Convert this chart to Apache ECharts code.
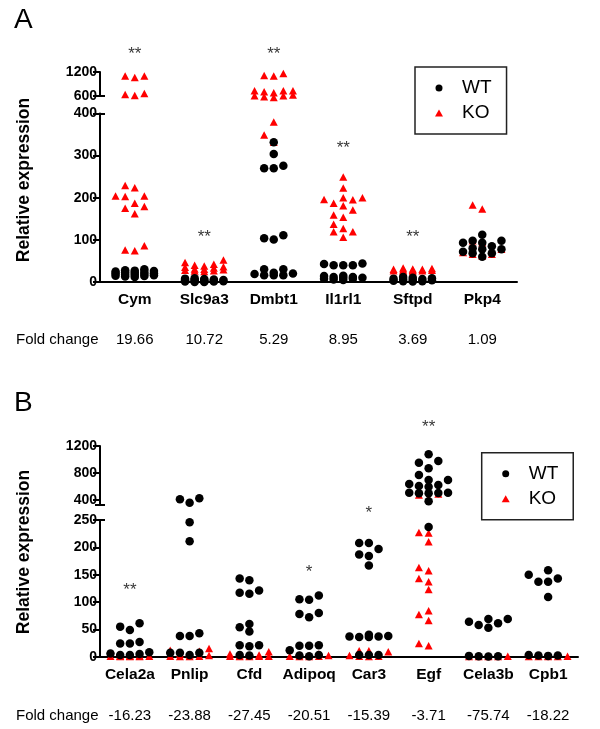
<!DOCTYPE html>
<html><head><meta charset="utf-8">
<script src="https://cdn.jsdelivr.net/npm/echarts@6/dist/echarts.min.js"></script>
<style>html,body{margin:0;padding:0;background:#fff}#c{width:600px;height:729px}</style>
</head><body><div id="c"></div>
<script>
// ---------- Panel A data ----------
const catsA = ['Cym','Slc9a3','Dmbt1','Il1rl1','Sftpd','Pkp4'];
const foldA = ['19.66','10.72','5.29','8.95','3.69','1.09'];
const sigA = ['**','**','**','**','**',''];
const sigValA = [1637,106,1637,317,106,null];
const ticksAUpper = [600,1200];
const ticksALower = [0,100,200,300,400];
const wtA_Cym = [28,26,24,22,30,25,20,18,15,14,13,16,27,21,19,23,17,12];
const wtA_Slc9a3 = [9,8,7,6,5,5,4,4,3,3,2,2,1,1,0,0];
const wtA_Dmbt1 = [332,304,276,270,270,104,101,111,22,16,30,16,16,30,20,19];
const wtA_Il1rl1 = [44,40,40,40,43,15,12,12,10,8,8,6,5,14,10];
const wtA_Sftpd = [12,10,9,8,7,6,5,4,3,2,2,1];
const wtA_Pkp4 = [112,98,98,93,93,85,80,78,78,72,68,68,60];
const koA_Cym = [1100,1060,1100,640,610,660,229,224,204,203,204,187,179,175,162,86,76,74];
const koA_Slc9a3 = [52,46,42,40,38,36,35,33,31,30,29,28,27,26,25];
const koA_Dmbt1 = [1110,1100,1160,733,625,608,733,733,560,608,708,583,680,380,349,332];
const koA_Il1rl1 = [249,223,200,196,187,195,200,181,171,159,154,137,127,119,119,106];
const koA_Sftpd = [33,32,31,30,30,29,28,28,27,27,26,25];
const koA_Pkp4 = [183,173,98,93,78,66,66,62,70];

// ---------- Panel B data ----------
const catsB = ['Cela2a','Pnlip','Cfd','Adipoq','Car3','Egf','Cela3b','Cpb1'];
const foldB = ['-16.23','-23.88','-27.45','-20.51','-15.39','-3.71','-75.74','-18.22'];
const sigB = ['**','','','*','*','**','',''];
const sigValB = [121,null,null,155,262,1470,null,null];
const ticksBUpper = [400,800,1200];
const ticksBLower = [0,50,100,150,200,250];
const wtB_Cela2a = [61,49,55,24,24,27,6,3,3,8,5];
const wtB_Pnlip = [424,359,410,246,211,38,38,43,7,7,7,3];
const wtB_Cfd = [143,140,121,117,115,60,54,46,21,21,19,3,2];
const wtB_Adipoq = [112,105,104,80,78,72,21,20,20,12,3,1,2];
const wtB_Car3 = [208,208,197,187,184,167,40,37,37,36,38,36,3,3,3];
const wtB_Egf = [1077,977,952,869,770,696,696,636,622,607,596,507,507,503,498,498,380,237];
const wtB_Cela3b = [69,69,64,61,58,53,1,1,1.5,0.5];
const wtB_Cpb1 = [158,150,143,137,137,109,2,2,3,1.5];
const koB_Cela2a = [2,1,1,0.5,0.5,1,2,0.5,1,1.5];
const koB_Pnlip = [15,12,10,5,3,2,1,1,0.5,0.5];
const koB_Cfd = [9,5,3,2,1,1,0.5,0.5,1,2];
const koB_Adipoq = [5,3,2,1,1,0.5,0.5,2];
const koB_Car3 = [11,11,9,2,1,1,0.5];
const koB_Egf = [488,473,424,227,226,210,163,157,143,137,123,84,77,66,24,20];
const koB_Cela3b = [0.5,0.5,1,0.3,0.8,0.5];
const koB_Cpb1 = [0.5,1,0.5,0.3,1,0.5];

const wtA = [wtA_Cym,wtA_Slc9a3,wtA_Dmbt1,wtA_Il1rl1,wtA_Sftpd,wtA_Pkp4];
const koA = [koA_Cym,koA_Slc9a3,koA_Dmbt1,koA_Il1rl1,koA_Sftpd,koA_Pkp4];
const wtB = [wtB_Cela2a,wtB_Pnlip,wtB_Cfd,wtB_Adipoq,wtB_Car3,wtB_Egf,wtB_Cela3b,wtB_Cpb1];
const koB = [koB_Cela2a,koB_Pnlip,koB_Cfd,koB_Adipoq,koB_Car3,koB_Egf,koB_Cela3b,koB_Cpb1];

// ---------- layout ----------
const FONT = '"Liberation Sans", Arial, sans-serif';
const PA = {n:catsA.length, left:100, width:417, upTop:72, upH:24, upMin:600, upMax:1200,
  loTop:113.5, loH:168.5, loMin:0, loMax:400, split:450, slotPx:9.6, gap:7.5, foldOffset:44, capOut:false,
  legend:{left:415, top:67}};
const PB = {n:catsB.length, left:100, width:478, upTop:446, upH:59, upMin:325, upMax:1200,
  loTop:520, loH:136.7, loMin:0, loMax:250, split:300, slotPx:9.7, gap:7.5, foldOffset:46, capOut:true,
  legend:{left:481.7, top:452.7}};

const option = {animation:false, backgroundColor:'#fff', grid:[], xAxis:[], yAxis:[], series:[], legend:[], graphic:[]};

function pixY(P, v){
  if (v > P.split) return P.upTop + P.upH*(P.upMax - v)/(P.upMax - P.upMin);
  return P.loTop + P.loH*(P.loMax - v)/(P.loMax - P.loMin);
}
function layoutSlots(P, vals){
  const order = vals.map((v,i)=>i).sort((a,b)=>vals[a]-vals[b]);
  const cands = [0,-1,1,-2,2];
  const placed = []; const slots = new Array(vals.length);
  for (const i of order){
    const y = pixY(P, vals[i]);
    let best = 0, bestD = -1;
    for (const s of cands){
      let d = Infinity;
      for (const p of placed) if (p.s === s) d = Math.min(d, Math.abs(p.y - y));
      if (d >= P.gap){ best = s; bestD = d; break; }
      if (d > bestD){ bestD = d; best = s; }
    }
    placed.push({s:best, y}); slots[i] = best;
  }
  return slots;
}
function mainY(g, min, max, ticks){
  return {type:'value', gridIndex:g, position:'left', min, max,
    axisLine:{show:true, onZero:false, lineStyle:{color:'#000', width:2}},
    axisTick:{show:true, length:7, customValues:ticks, lineStyle:{color:'#000', width:2}},
    axisLabel:{show:true, customValues:ticks, formatter:(v)=>String(v), color:'#000', fontFamily:FONT, fontWeight:'bold', fontSize:14, margin:3},
    splitLine:{show:false}};
}
function capY(g, min, max, v, inside){
  return {type:'value', gridIndex:g, position:'left', min, max,
    axisLine:{show:false, onZero:false}, axisLabel:{show:false}, splitLine:{show:false},
    axisTick:{show:true, inside, length:5, customValues:[v], lineStyle:{color:'#000', width:2}}};
}

function addPanel(P, cats, fold, wt, ko, sig, sigVal, upTicks, loTicks){
  const gU = option.grid.length;
  option.grid.push({left:P.left, width:P.width, top:P.upTop, height:P.upH, outerBoundsMode:'none'});
  option.grid.push({left:P.left, width:P.width, top:P.loTop, height:P.loH, outerBoundsMode:'none'});
  const gL = gU + 1;
  const xU = option.xAxis.length;
  option.xAxis.push({type:'value', gridIndex:gU, position:'bottom', min:-0.5, max:P.n-0.5, show:false});
  const xL = option.xAxis.length;
  option.xAxis.push({type:'value', gridIndex:gL, position:'bottom', min:-0.5, max:P.n-0.5, show:false});
  option.xAxis.push({type:'category', gridIndex:gL, position:'bottom', data:cats, boundaryGap:true,
    axisLine:{show:true, onZero:false, lineStyle:{color:'#000', width:2}}, axisTick:{show:false},
    axisLabel:{color:'#000', fontFamily:FONT, fontWeight:'bold', fontSize:15.5, margin:10, interval:0},
    splitLine:{show:false}});
  option.xAxis.push({type:'category', gridIndex:gL, position:'bottom', offset:P.foldOffset, data:fold,
    axisLine:{show:false, onZero:false}, axisTick:{show:false},
    axisLabel:{color:'#000', fontFamily:FONT, fontSize:15, margin:6, interval:0}, splitLine:{show:false}});
  const yU = option.yAxis.length;
  option.yAxis.push(mainY(gU, P.upMin, P.upMax, upTicks));
  option.yAxis.push(capY(gU, P.upMin, P.upMax, P.upMin, true));
  if (P.capOut) option.yAxis.push(capY(gU, P.upMin, P.upMax, P.upMin, false));
  const yL = option.yAxis.length;
  option.yAxis.push(mainY(gL, P.loMin, P.loMax, loTicks));
  option.yAxis.push(capY(gL, P.loMin, P.loMax, P.loMax, true));

  const catPx = P.width / P.n;
  function build(groups){
    const up = [], lo = [];
    groups.forEach((vals, ci) => {
      const slots = layoutSlots(P, vals);
      vals.forEach((v, i) => {
        const pt = [ci + slots[i]*P.slotPx/catPx, v];
        (v > P.split ? up : lo).push(pt);
      });
    });
    return {up, lo};
  }
  const K = build(ko), W = build(wt);
  const koStyle = {type:'scatter', name:'KO', symbol:'triangle', symbolSize:[8,7.5], itemStyle:{color:'#ff0000', opacity:1}, clip:false, silent:true, z:2};
  const wtStyle = {type:'scatter', name:'WT', symbol:'circle', symbolSize:8.5, itemStyle:{color:'#000', opacity:1}, clip:false, silent:true, z:3};
  option.series.push(Object.assign({}, koStyle, {xAxisIndex:xU, yAxisIndex:yU, data:K.up}));
  option.series.push(Object.assign({}, koStyle, {xAxisIndex:xL, yAxisIndex:yL, data:K.lo}));
  option.series.push(Object.assign({}, wtStyle, {xAxisIndex:xU, yAxisIndex:yU, data:W.up}));
  option.series.push(Object.assign({}, wtStyle, {xAxisIndex:xL, yAxisIndex:yL, data:W.lo}));

  const sUp = [], sLo = [];
  sig.forEach((s, i) => {
    if (!s) return;
    const item = {value:[i, sigVal[i]], label:{formatter:s}};
    (sigVal[i] > P.split ? sUp : sLo).push(item);
  });
  const sigStyle = {type:'scatter', name:'sig', symbolSize:1, itemStyle:{color:'rgba(0,0,0,0)'}, clip:false, silent:true, z:4,
    label:{show:true, position:'inside', color:'#000', fontFamily:FONT, fontSize:17}};
  option.series.push(Object.assign({}, sigStyle, {xAxisIndex:xU, yAxisIndex:yU, data:sUp}));
  option.series.push(Object.assign({}, sigStyle, {xAxisIndex:xL, yAxisIndex:yL, data:sLo}));

  option.legend.push({data:[{name:'WT', icon:'circle'}, {name:'KO', icon:'triangle'}],
    orient:'vertical', left:P.legend.left, top:P.legend.top, itemWidth:8, itemHeight:7, itemGap:6,
    padding:[11.5,15,11.5,20], borderColor:'#222', borderWidth:1.5, selectedMode:false,
    textStyle:{fontSize:19, color:'#000', fontFamily:FONT, padding:[0,0,0,14]}});
}

addPanel(PA, catsA, foldA, wtA, koA, sigA, sigValA, ticksAUpper, ticksALower);
addPanel(PB, catsB, foldB, wtB, koB, sigB, sigValB, ticksBUpper, ticksBLower);

function txt(extra, style){
  return Object.assign({type:'text', silent:true}, extra, {style:Object.assign({fill:'#000', fontFamily:FONT}, style)});
}
option.graphic = [
  txt({left:14, top:6}, {text:'A', fontSize:28}),
  txt({left:14, top:389}, {text:'B', fontSize:28}),
  txt({x:24, y:180, rotation:Math.PI/2}, {text:'Relative expression', fontSize:17.5, fontWeight:'bold', align:'center', verticalAlign:'middle', textAlign:'center', textVerticalAlign:'middle'}),
  txt({x:24, y:552, rotation:Math.PI/2}, {text:'Relative expression', fontSize:17.5, fontWeight:'bold', align:'center', verticalAlign:'middle', textAlign:'center', textVerticalAlign:'middle'}),
  txt({x:16, y:340}, {text:'Fold change', fontSize:15, align:'left', verticalAlign:'middle', textAlign:'left', textVerticalAlign:'middle'}),
  txt({x:16, y:716}, {text:'Fold change', fontSize:15, align:'left', verticalAlign:'middle', textAlign:'left', textVerticalAlign:'middle'})
];

const chart = echarts.init(document.getElementById('c'), null, {renderer:'canvas', width:600, height:729});
chart.setOption(option);
</script>
</body></html>
